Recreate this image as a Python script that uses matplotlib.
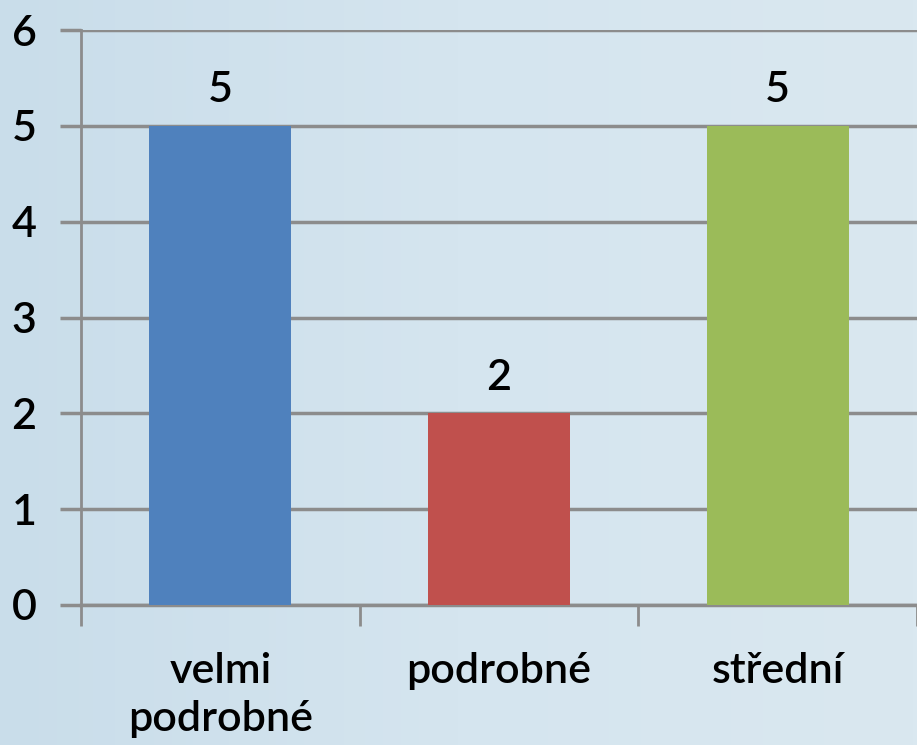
import numpy as np
import matplotlib.pyplot as plt
from matplotlib.colors import LinearSegmentedColormap

categories = ["velmi\npodrobné", "podrobné", "střední"]
values = [5, 2, 5]
colors = ["#4f81bd", "#c0504d", "#9bbb59"]

plt.rcParams['font.family'] = ['Lato', 'DejaVu Sans']
plt.rcParams['font.weight'] = 'semibold'

fig = plt.figure(figsize=(9.17, 7.45), dpi=100)

# pozadí s jemným přechodem
bg = fig.add_axes([0, 0, 1, 1], zorder=-10)
grad = np.linspace(0, 1, 256).reshape(1, -1)
cmap = LinearSegmentedColormap.from_list("bg", ["#c9ddea", "#d5e5ef", "#dae8f0"])
bg.imshow(grad, aspect="auto", cmap=cmap, extent=[0, 1, 0, 1])
bg.axis("off")

ax = fig.add_axes([81 / 917, 1 - 605 / 745, 836 / 917, 575 / 745])
ax.patch.set_alpha(0)

x = np.arange(len(categories))
ax.bar(x, values, width=0.51, color=colors, zorder=3)

for xi, v in zip(x, values):
    ax.text(xi, v + 0.37, str(v), ha="center", va="center", fontsize=31, zorder=4)

ax.set_xlim(-0.5, 2.5)
ax.set_ylim(0, 6)
ax.set_yticks(range(7))
ax.yaxis.grid(True, color="#8c8c8c", linewidth=2.5, zorder=1)
ax.set_axisbelow(True)

ax.set_xticks(x)
ax.set_xticklabels(categories, fontsize=31, linespacing=1.3)
ax.set_xticks([-0.5, 0.5, 1.5, 2.5], minor=True)
ax.tick_params(axis="x", which="major", length=0, pad=34)
ax.tick_params(axis="x", which="minor", length=15, width=2, color="#8c8c8c")
ax.tick_params(axis="y", length=15, width=2.5, color="#8c8c8c", labelsize=31, pad=17)

for side in ["top", "right"]:
    ax.spines[side].set_visible(False)
ax.spines["left"].set_color("#8c8c8c")
ax.spines["left"].set_linewidth(2)
ax.spines["bottom"].set_color("#8c8c8c")
ax.spines["bottom"].set_linewidth(2.5)

fig.savefig("out.png", dpi=100)
